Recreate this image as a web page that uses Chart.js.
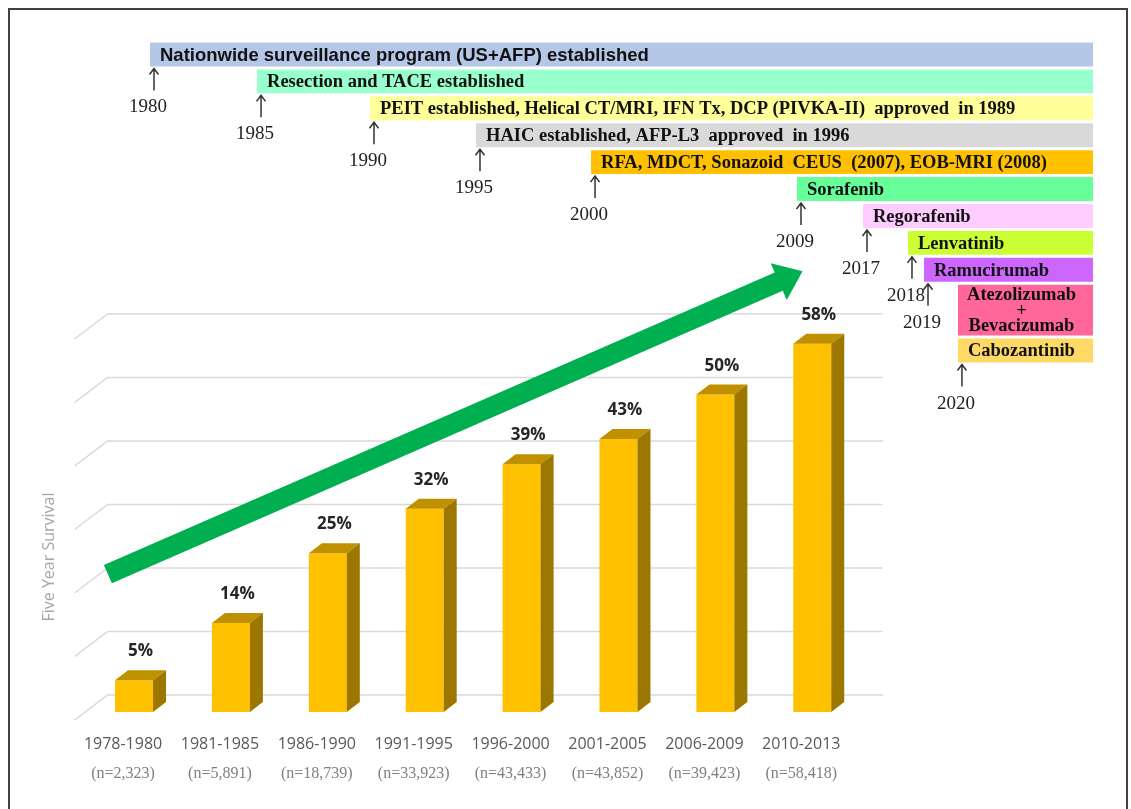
<!DOCTYPE html>
<html>
<head>
<meta charset="utf-8">
<script src="https://cdn.jsdelivr.net/npm/chart.js@4.4.1/dist/chart.umd.min.js"></script>
<style>
  html, body { margin: 0; padding: 0; background: #fff; }
  #stage { position: relative; width: 1131px; height: 809px; overflow: hidden; }
  #stage canvas { position: absolute; left: 0; top: 0; }
  #frame { position: absolute; left: 8px; top: 8px; width: 1116px; height: 900px; border: 2px solid #404040; }
</style>
</head>
<body>
<div id="stage">
  <div id="frame"></div>
  <canvas id="survival" width="1131" height="809"></canvas>
  <canvas id="timeline" width="1131" height="809"></canvas>
</div>
<script>
// five year survival by period of diagnosis
const periods = ['1978-1980', '1981-1985', '1986-1990', '1991-1995', '1996-2000', '2001-2005', '2006-2009', '2010-2013'];
const sampleSizes = ['(n=2,323)', '(n=5,891)', '(n=18,739)', '(n=33,923)', '(n=43,433)', '(n=43,852)', '(n=39,423)', '(n=58,418)'];
const survival = [5, 14, 25, 32, 39, 43, 50, 58];
const survivalMax = 60;
const survivalStep = 10;

// milestones on the timeline above the bars
const milestoneYears = [1980, 1985, 1990, 1995, 2000, 2009, 2017, 2018, 2019, 2020, 2020];
const milestoneText = [
    'Nationwide surveillance program (US+AFP) established',
    'Resection and TACE established',
    'PEIT established, Helical CT/MRI, IFN Tx, DCP (PIVKA-II)  approved  in 1989',
    'HAIC established, AFP-L3  approved  in 1996',
    'RFA, MDCT, Sonazoid  CEUS  (2007), EOB-MRI (2008)',
    'Sorafenib',
    'Regorafenib',
    'Lenvatinib',
    'Ramucirumab',
    'Atezolizumab\n+\nBevacizumab',
    'Cabozantinib'
];
const timelineEnd = 2023;

// trend arrow, in data units (category index, % survival)
const trendFrom = [-0.27, 21.7];
const trendTo = [6.9, 69.4];

const milestoneColors = ['#B4C7E7', '#99FFCC', '#FFFF99', '#D9D9D9', '#FFC000', '#66FF99',
    '#FFCCFF', '#CCFF33', '#CC66FF', '#FF6699', '#FFD966'];

// the timeline in the figure is schematic, not to scale: year -> fraction of axis
const timelineAxisStops = [[1980, 0], [1985, 0.1135], [1990, 0.2333], [1995, 0.3457], [2000, 0.4677],
    [2009, 0.6861], [2017, 0.7561], [2018, 0.8038], [2019, 0.8208], [2020, 0.8568], [2023, 1]];

class SchematicScale extends Chart.LinearScale {
    getPixelForValue(value) {
        const k = timelineAxisStops;
        let i = 1;
        while (i < k.length - 1 && value > k[i][0]) i++;
        const [y0, f0] = k[i - 1];
        const [y1, f1] = k[i];
        return this.getPixelForDecimal(f0 + (value - y0) / (y1 - y0) * (f1 - f0));
    }
    getValueForPixel(pixel) {
        const d = this.getDecimalForPixel(pixel);
        const k = timelineAxisStops;
        let i = 1;
        while (i < k.length - 1 && d > k[i][1]) i++;
        const [y0, f0] = k[i - 1];
        const [y1, f1] = k[i];
        return y0 + (d - f0) / (f1 - f0) * (y1 - y0);
    }
}
SchematicScale.id = 'schematic';
Chart.register(SchematicScale);

// 3d look
const depth = { barDx: 13, barDy: 10, wallDx: 22, wallDy: 17, floorDx: 11, floorDy: 8 };

const depthPlugin = {
    id: 'depth',
    beforeDatasetsDraw(chart) {
        const { ctx, chartArea: a, scales: { x, y } } = chart;
        ctx.save();
        // back wall gridlines with floor diagonals
        ctx.strokeStyle = '#D9D9D9';
        ctx.lineWidth = 1.5;
        y.ticks.forEach(t => {
            const py = y.getPixelForValue(t.value);
            ctx.beginPath();
            ctx.moveTo(a.left - depth.floorDx, py + depth.floorDy);
            ctx.lineTo(a.left + depth.wallDx, py - depth.wallDy);
            ctx.lineTo(a.right + depth.wallDx, py - depth.wallDy);
            ctx.stroke();
        });

        // green trend arrow
        const x0 = x.getPixelForValue(trendFrom[0]), y0 = y.getPixelForValue(trendFrom[1]);
        const x1 = x.getPixelForValue(trendTo[0]), y1 = y.getPixelForValue(trendTo[1]);
        const len = Math.hypot(x1 - x0, y1 - y0);
        const ux = (x1 - x0) / len, uy = (y1 - y0) / len;
        const nx = -uy, ny = ux;
        const shaft = 10, head = 20, headLen = 26;
        const hx = x1 - ux * headLen, hy = y1 - uy * headLen;
        ctx.fillStyle = '#00B050';
        ctx.beginPath();
        ctx.moveTo(x0 + nx * shaft, y0 + ny * shaft);
        ctx.lineTo(hx + nx * shaft, hy + ny * shaft);
        ctx.lineTo(hx + nx * head, hy + ny * head);
        ctx.lineTo(x1, y1);
        ctx.lineTo(hx - nx * head, hy - ny * head);
        ctx.lineTo(hx - nx * shaft, hy - ny * shaft);
        ctx.lineTo(x0 - nx * shaft, y0 - ny * shaft);
        ctx.closePath();
        ctx.fill();

        // axis title
        ctx.translate(a.left - 36, a.bottom - 155);
        ctx.rotate(-Math.PI / 2);
        ctx.font = '16px "Open Sans"';
        ctx.fillStyle = '#A6A6A6';
        ctx.textAlign = 'center';
        ctx.textBaseline = 'middle';
        ctx.fillText('Five Year Survival', 0, 0);
        ctx.restore();
    },
    afterDatasetsDraw(chart) {
        const ctx = chart.ctx;
        const { barDx: dx, barDy: dy } = depth;
        ctx.save();
        chart.getDatasetMeta(0).data.forEach((el, i) => {
            const l = el.x - el.width / 2, r = el.x + el.width / 2;
            const top = el.y, base = el.base;
            ctx.fillStyle = '#BF9000';
            ctx.beginPath();
            ctx.moveTo(l, top);
            ctx.lineTo(r, top);
            ctx.lineTo(r + dx, top - dy);
            ctx.lineTo(l + dx, top - dy);
            ctx.closePath();
            ctx.fill();
            ctx.fillStyle = '#9C7700';
            ctx.beginPath();
            ctx.moveTo(r, top);
            ctx.lineTo(r + dx, top - dy);
            ctx.lineTo(r + dx, base - dy);
            ctx.lineTo(r, base);
            ctx.closePath();
            ctx.fill();

            ctx.fillStyle = '#262626';
            ctx.font = 'bold 17px "Open Sans"';
            ctx.textAlign = 'center';
            ctx.textBaseline = 'alphabetic';
            ctx.fillText(survival[i] + '%', el.x + dx / 2, top - dy - 14);
        });
        ctx.restore();
    }
};

const flatAxis = { grid: { display: false, drawTicks: false }, border: { display: false } };

new Chart(document.getElementById('survival'), {
    type: 'bar',
    data: {
        labels: periods,
        datasets: [{
            data: survival,
            backgroundColor: '#FFC000',
            borderWidth: 0,
            categoryPercentage: 0.8,
            barPercentage: 0.49
        }]
    },
    options: {
        responsive: false,
        animation: false,
        events: [],
        layout: { padding: { left: 85.6, right: 270.3, top: 331, bottom: 22 } },
        plugins: { legend: { display: false }, tooltip: { enabled: false } },
        scales: {
            x: {
                ...flatAxis,
                weight: 0,
                ticks: {
                    padding: 22.4, labelOffset: -11, autoSkip: false, maxRotation: 0,
                    color: '#595959', font: { family: '"Open Sans"', size: 16 }
                },
                afterFit: s => { s.height = 40; }
            },
            xn: {
                ...flatAxis,
                type: 'category',
                labels: sampleSizes,
                position: 'bottom',
                offset: true,
                weight: 1,
                ticks: {
                    padding: 12.4, labelOffset: -11, autoSkip: false, maxRotation: 0,
                    color: '#7F7F7F', font: { family: '"Liberation Serif"', size: 16 }
                },
                afterFit: s => { s.height = 35; }
            },
            y: { display: false, min: 0, max: survivalMax, ticks: { stepSize: survivalStep } }
        }
    },
    plugins: [depthPlugin]
});

// timeline rows: the two-drug entry takes two rows
const singleRows = [], doubleRows = [];
let slot = 0;
milestoneText.forEach((t, i) => {
    const span = t.includes('\n') ? 2 : 1;
    const row = { i, y: slot + span / 2, x: [milestoneYears[i], timelineEnd] };
    (span === 1 ? singleRows : doubleRows).push(row);
    slot += span;
});
const rowCount = slot;

const milestonePlugin = {
    id: 'milestones',
    afterDatasetsDraw(chart) {
        const ctx = chart.ctx;
        ctx.save();
        chart.data.datasets.forEach((ds, d) => {
            chart.getDatasetMeta(d).data.forEach((el, j) => {
                const m = ds.data[j].i;
                const left = Math.min(el.base, el.x), right = Math.max(el.base, el.x);
                const bottom = el.y + el.height / 2;
                const lines = milestoneText[m].split('\n');
                ctx.fillStyle = '#111';
                ctx.textBaseline = 'middle';
                ctx.font = m === 0 ? 'bold 18.5px "Liberation Sans"' : 'bold 18.5px "Liberation Serif"';
                if (lines.length === 1) {
                    ctx.textAlign = 'left';
                    ctx.fillText(lines[0], left + 10, el.y + 1);
                } else {
                    ctx.textAlign = 'center';
                    lines.forEach((ln, k) => {
                        ctx.fillText(ln, (left + right) / 2 - 4, el.y + 1 + (k - (lines.length - 1) / 2) * 15.5);
                    });
                }
                // only the lowest entry of a year gets the pointer
                if (milestoneYears.indexOf(milestoneYears[m], m + 1) !== -1) return;
                const ax = left + 4;
                ctx.strokeStyle = '#333';
                ctx.lineWidth = 1.5;
                ctx.beginPath();
                ctx.moveTo(ax, bottom + 24);
                ctx.lineTo(ax, bottom + 2);
                ctx.moveTo(ax - 4.5, bottom + 8);
                ctx.lineTo(ax, bottom + 2);
                ctx.lineTo(ax + 4.5, bottom + 8);
                ctx.stroke();
                ctx.font = '19px "Liberation Serif"';
                ctx.textAlign = 'center';
                ctx.textBaseline = 'alphabetic';
                ctx.fillStyle = '#222';
                ctx.fillText(String(milestoneYears[m]), ax - 6, bottom + 46);
            });
        });
        ctx.restore();
    }
};

const rowColor = c => milestoneColors[c.raw.i];

new Chart(document.getElementById('timeline'), {
    type: 'bar',
    data: {
        datasets: [
            { data: singleRows, backgroundColor: rowColor, borderWidth: 0, grouped: false, categoryPercentage: 0.89, barPercentage: 1 },
            { data: doubleRows, backgroundColor: rowColor, borderWidth: 0, grouped: false, categoryPercentage: 1, barPercentage: 1.89 }
        ]
    },
    options: {
        indexAxis: 'y',
        responsive: false,
        animation: false,
        events: [],
        layout: { padding: { left: 150, right: 38, top: 41, bottom: 445 } },
        plugins: { legend: { display: false }, tooltip: { enabled: false } },
        scales: {
            x: { type: 'schematic', display: false, min: milestoneYears[0], max: timelineEnd },
            y: { type: 'linear', display: false, offset: false, reverse: true, min: 0, max: rowCount, ticks: { stepSize: 1 } }
        }
    },
    plugins: [milestonePlugin]
});
</script>
</body>
</html>
